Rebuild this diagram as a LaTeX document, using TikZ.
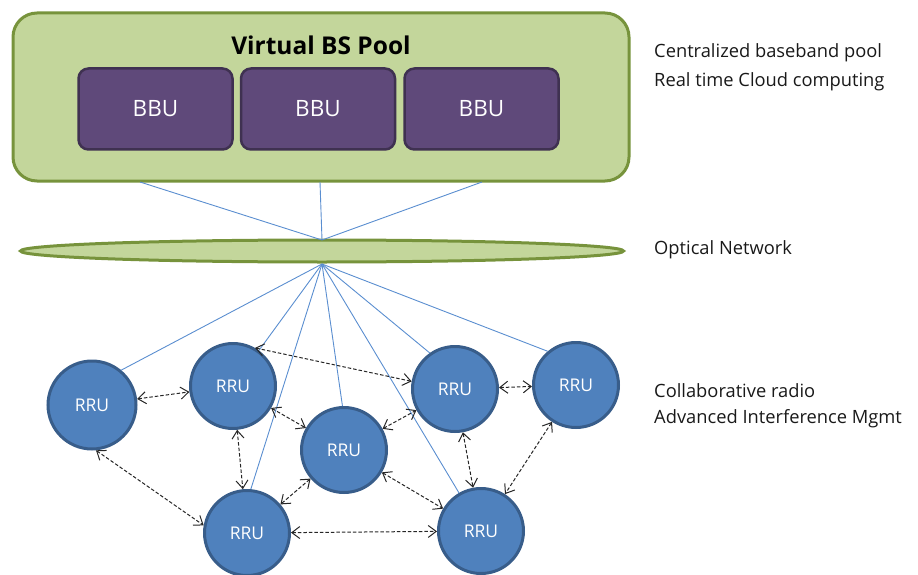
\documentclass[tikz,border=0pt]{standalone}
\usepackage{fontspec}
\setmainfont{Open Sans}
\usetikzlibrary{arrows.meta,shapes.geometric}
\definecolor{poolfill}{HTML}{C3D69B}
\definecolor{pooledge}{HTML}{77933C}
\definecolor{bbufill}{HTML}{5F497A}
\definecolor{bbuedge}{HTML}{3F3151}
\definecolor{rrufill}{HTML}{4F81BD}
\definecolor{rruedge}{HTML}{385D8A}
\definecolor{linkblue}{HTML}{5A8ED0}
\tikzset{
  pool/.style={draw=pooledge, fill=poolfill, line width=3pt, rounded corners=24pt},
  bbu/.style={draw=bbuedge, fill=bbufill, line width=2.5pt, rounded corners=10pt,
    minimum width=154pt, minimum height=81pt, text=white, font=\fontsize{22.5}{26}\selectfont, inner sep=0pt},
  rru/.style={circle, draw=rruedge, fill=rrufill, line width=3pt, minimum size=85pt,
    text=white, font=\fontsize{17.5}{20}\selectfont, inner sep=0pt},
  optnet/.style={ellipse, draw=pooledge, fill=poolfill, line width=3pt,
    minimum width=603pt, minimum height=22pt, inner sep=0pt},
  fiber/.style={draw=linkblue, line width=0.9pt},
  collab/.style={draw=black!85, line width=1pt, dash pattern=on 3.5pt off 2pt,
    {Straight Barb[length=8pt,width=12pt,line width=1pt]}-{Straight Barb[length=8pt,width=12pt,line width=1pt]}},
  note/.style={anchor=west, inner sep=0pt, font=\fontsize{18.3}{21}\selectfont, text=black!90}
}
\begin{document}
\begin{tikzpicture}[x=1pt,y=-1pt]
\useasboundingbox (0,0) rectangle (918,575);
% pool
\node[pool, minimum width=616pt, minimum height=168pt, inner sep=0pt] (pool) at (321,97) {};
\node[font=\bfseries\fontsize{24.5}{28}\selectfont] (title) at (321,45) {Virtual BS Pool};
\node[bbu] (bbu1) at (155.5,109) {BBU};
\node[bbu] (bbu2) at (318,109) {BBU};
\node[bbu] (bbu3) at (481.5,109) {BBU};
% optical network
\node[optnet] (net) at (322,251) {};
\coordinate (ptop) at (322,240);
\coordinate (pbot) at (322,264);
\coordinate (s1) at (140,182);
\coordinate (s2) at (320,182);
\coordinate (s3) at (482,182);
\draw[fiber] (s1) -- (ptop);
\draw[fiber] (s2) -- (ptop);
\draw[fiber] (s3) -- (ptop);
% RRUs
\node[rru, minimum height=88pt] (r1) at (92,405) {RRU};
\node[rru] (r2) at (233,386) {RRU};
\node[rru] (r3) at (344,450) {RRU};
\node[rru] (r4) at (455,389) {RRU};
\node[rru] (r7) at (576,385) {RRU};
\node[rru] (r5) at (247,533) {RRU};
\node[rru] (r6) at (481,531) {RRU};
% fibers to RRUs
\draw[fiber] (pbot) -- (r1.50);
\draw[fiber] (pbot) -- (r2);
\draw[fiber] (pbot) -- (r5.85);
\draw[fiber] (pbot) -- (r3.92);
\draw[fiber] (pbot) -- (r6.120);
\draw[fiber] (pbot) -- (r4.125);
\draw[fiber] (pbot) -- (r7.130);
% collaboration links
\draw[collab] (r1) -- (r2);
\draw[collab] (r1.-85) -- (r5.170);
\draw[collab] (r2.60) -- (r4.170);
\draw[collab] (r2) -- (r3);
\draw[collab] (r2) -- (r5);
\draw[collab] (r3) -- (r5);
\draw[collab] (r3) -- (r4);
\draw[collab] (r3) -- (r6);
\draw[collab] (r4) -- (r7);
\draw[collab] (r4) -- (r6);
\draw[collab] (r7) -- (r6);
\draw[collab] (r5) -- (r6);
% notes
\node[note] (n1) at (654,53) {Centralized baseband pool};
\node[note] (n2) at (654,82) {Real time Cloud computing};
\node[note] (n3) at (654,250) {Optical Network};
\node[note] (n4) at (654,391) {Collaborative radio};
\node[note] (n5) at (654,419) {Advanced Interference Mgmt};
\end{tikzpicture}
\end{document}
